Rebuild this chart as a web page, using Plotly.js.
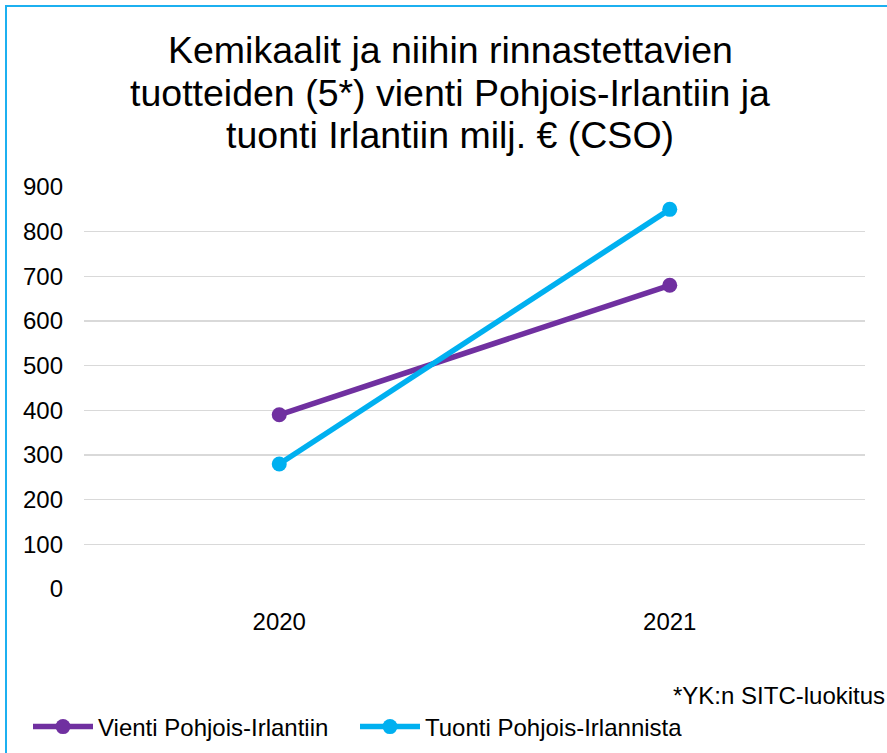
<!DOCTYPE html>
<html>
<head>
<meta charset="utf-8">
<script src="https://cdn.plot.ly/plotly-3.0.1.min.js"></script>
<style>
  html, body { margin: 0; padding: 0; background: #fff; overflow: hidden; }
  #wrap { position: relative; width: 887px; height: 753px; }
  #chart { width: 887px; height: 753px; }
  #frame { position: absolute; left: 5px; top: 5px; width: 1000px; height: 1000px;
           border-left: 2px solid #1CB0F0; border-top: 2px solid #1CB0F0; pointer-events: none; }
</style>
</head>
<body>
<div id="wrap">
  <div id="chart"></div>
  <div id="frame"></div>
</div>
<script>
const years = ['2020', '2021'];
const vientiName = 'Vienti Pohjois-Irlantiin';
const vientiValues = [390, 680];
const tuontiName = 'Tuonti Pohjois-Irlannista';
const tuontiValues = [280, 850];
const yTicks = [0, 100, 200, 300, 400, 500, 600, 700, 800, 900];
const titleLines = [
  'Kemikaalit ja niihin rinnastettavien',
  'tuotteiden (5*) vienti Pohjois-Irlantiin ja',
  'tuonti Irlantiin milj. € (CSO)'
];
const footnote = '*YK:n SITC-luokitus';

const FONT = '"Liberation Sans", Arial, sans-serif';

const traces = [
  {
    x: years, y: vientiValues, name: vientiName, type: 'scatter', mode: 'lines+markers',
    line: { color: '#7030A0', width: 5.5 },
    marker: { color: '#7030A0', size: 15 }
  },
  {
    x: years, y: tuontiValues, name: tuontiName, type: 'scatter', mode: 'lines+markers',
    line: { color: '#00B0F0', width: 5.5 },
    marker: { color: '#00B0F0', size: 15 }
  }
];

const plotTop = 187, plotBottom = 589, plotLeft = 84, plotRight = 865;
const py = Y => (plotBottom - Y) / (plotBottom - plotTop);
const px = X => (X - plotLeft) / (plotRight - plotLeft);

const titleY = [50, 92.5, 135];
const annotations = titleLines.map((t, i) => ({
  text: t, xref: 'paper', yref: 'paper', x: px(450), y: py(titleY[i]),
  xanchor: 'center', yanchor: 'middle', showarrow: false,
  font: { family: FONT, size: 37.5, color: '#000' }
}));
annotations.push({
  text: footnote, xref: 'paper', yref: 'paper', x: px(887), y: py(695),
  xanchor: 'right', yanchor: 'middle', showarrow: false,
  font: { family: FONT, size: 24, color: '#000' }
});

const layout = {
  width: 887, height: 753,
  margin: { l: plotLeft, r: 887 - plotRight, t: plotTop, b: 753 - plotBottom, autoexpand: false },
  paper_bgcolor: '#fff', plot_bgcolor: '#fff',
  font: { family: FONT, color: '#000', size: 24 },
  showlegend: true,
  legend: {
    orientation: 'h', x: px(28), xanchor: 'left', y: py(727), yanchor: 'middle',
    font: { family: FONT, size: 24, color: '#000' }, itemwidth: 60,
    entrywidth: 252, entrywidthmode: 'pixels'
  },
  xaxis: {
    type: 'category', range: [-0.5, 1.5], showgrid: false, zeroline: false, showline: false,
    ticks: '', ticklabelstandoff: 16, tickfont: { family: FONT, size: 24, color: '#000' }
  },
  yaxis: {
    range: [0, 900], tickvals: yTicks, showgrid: true, gridcolor: '#D9D9D9', gridwidth: 1.5,
    zeroline: false, showline: false, ticks: '', ticklabelstandoff: 20,
    tickfont: { family: FONT, size: 24, color: '#000' }
  },
  annotations: annotations
};

Plotly.newPlot('chart', traces, layout, { displayModeBar: false, staticPlot: true });
</script>
</body>
</html>
